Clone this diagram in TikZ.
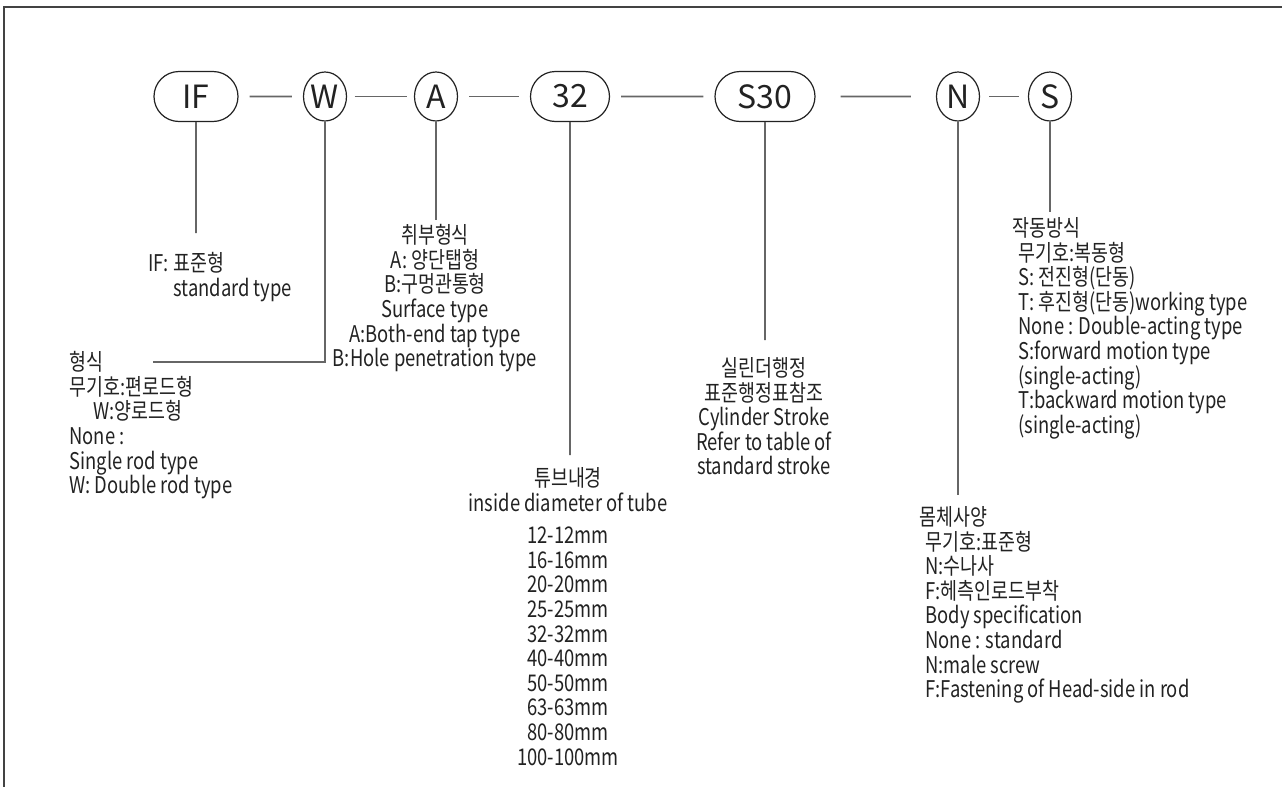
\documentclass[tikz,border=0pt]{standalone}
\usepackage{fontspec}
\setmainfont[FakeStretch=0.8]{Noto Sans CJK KR}
\newfontfamily\codefont{Noto Sans CJK KR}
\usepackage{tikz}
\usetikzlibrary{shapes.misc,shapes.geometric}
\definecolor{linegray}{HTML}{666666}
\definecolor{inkgray}{HTML}{222222}

\begin{document}
\begin{tikzpicture}[x=0.5pt,y=-0.5pt,
    pill/.style={draw=inkgray, line width=0.6pt, rounded rectangle, minimum height=25pt, inner sep=0pt, text=inkgray, font=\codefont\fontsize{16}{16}\selectfont},
    ring/.style={draw=inkgray, line width=0.6pt, ellipse, minimum width=21.5pt, minimum height=24.5pt, inner sep=0pt, text=inkgray, font=\codefont\fontsize{16}{16}\selectfont},
    link/.style={draw=linegray, line width=0.8pt, shorten <=#1, shorten >=#1},
    lead/.style={draw=linegray, line width=0.8pt},
    desc/.style={inner sep=0pt, text=inkgray, font=\fontsize{11.5}{12.3}\selectfont}]
    \useasboundingbox (0,0) rectangle (1282,787);
    \draw[draw=inkgray!85, line width=1pt] (3.5,787) -- (3.5,7) -- (1282,7);

    % model code
    \node[pill, minimum width=42pt] (if) at (196,96.5) {IF};
    \node[ring] (w) at (325,96.5) {W};
    \node[ring] (a) at (436,96.5) {A};
    \node[pill, minimum width=39.5pt] (dia) at (570,96.5) {32};
    \node[pill, minimum width=50pt] (stroke) at (765,96.5) {S30};
    \node[ring] (body) at (958,96.5) {N};
    \node[ring] (act) at (1050,96.5) {S};

    \draw[link=5.5pt] (if) -- (w);
    \draw[link=3.7pt] (w) -- (a);
    \draw[link=5.5pt] (a) -- (dia);
    \draw[link=5.5pt] (dia) -- (stroke);
    \draw[link=12.5pt] (stroke) -- (body);
    \draw[link=4.5pt] (body) -- (act);

    % leader ends
    \coordinate (ifend) at (196,233);
    \coordinate (wend) at (153,362);
    \coordinate (aend) at (436,220);
    \coordinate (diaend) at (570,455);
    \coordinate (strokeend) at (765,340);
    \coordinate (bodyend) at (958,495);
    \coordinate (actend) at (1050,212);

    \draw[lead] (if) -- (ifend);
    \draw[lead] (w) |- (wend);
    \draw[lead] (a) -- (aend);
    \draw[lead] (dia) -- (diaend);
    \draw[lead] (stroke) -- (strokeend);
    \draw[lead] (body) -- (bodyend);
    \draw[lead] (act) -- (actend);

    % descriptions
    \node[desc, align=left, anchor=north west] (iftext) at (148,252)
        {IF: 표준형\\\hspace*{12.5pt}standard type};
    \node[desc, align=left, anchor=north west] (wtext) at (69,351)
        {형식\\무기호:편로드형\\\hspace*{12pt}W:양로드형\\None :\\Single rod type\\W: Double rod type};
    \node[desc, align=center, anchor=north] (atext) at (435,224)
        {취부형식\\A: 양단탭형\\B:구멍관통형\\Surface type\\A:Both-end tap type\\B:Hole penetration type};
    \node[desc, align=center, anchor=north] (diatext) at (568,467)
        {튜브내경\\inside diameter of tube\\[4pt]12-12mm\\16-16mm\\20-20mm\\25-25mm\\32-32mm\\40-40mm\\50-50mm\\63-63mm\\80-80mm\\100-100mm};
    \node[desc, align=center, anchor=north] (stroketext) at (764,357)
        {실린더행정\\표준행정표참조\\Cylinder Stroke\\Refer to table of\\standard stroke};
    \node[desc, align=left, anchor=north west] (acttext) at (1012,217)
        {작동방식\\\hspace*{3pt}무기호:복동형\\\hspace*{3pt}S: 전진형(단동)\\\hspace*{3pt}T: 후진형(단동)working type\\\hspace*{3pt}None : Double-acting type\\\hspace*{3pt}S:forward motion type\\\hspace*{3pt}(single-acting)\\\hspace*{3pt}T:backward motion type\\\hspace*{3pt}(single-acting)};
    \node[desc, align=left, anchor=north west] (bodytext) at (919,506)
        {몸체사양\\\hspace*{3pt}무기호:표준형\\\hspace*{3pt}N:수나사\\\hspace*{3pt}F:헤측인로드부착\\\hspace*{3pt}Body specification\\\hspace*{3pt}None : standard\\\hspace*{3pt}N:male screw\\\hspace*{3pt}F:Fastening of Head-side in rod};
\end{tikzpicture}
\end{document}
